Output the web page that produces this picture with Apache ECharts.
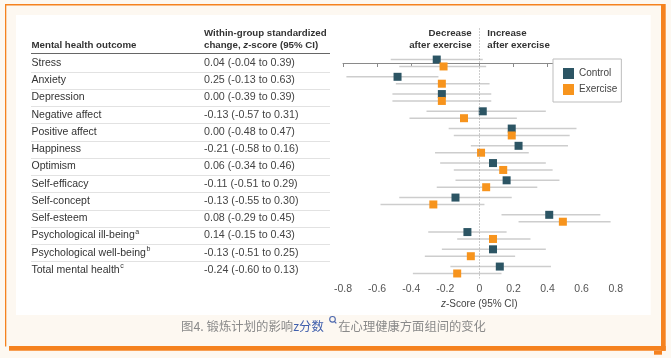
<!DOCTYPE html>
<html>
<head>
<meta charset="utf-8">
<script src="https://cdn.jsdelivr.net/npm/echarts@6/dist/echarts.min.js"></script>
<style>
html,body{margin:0;padding:0;background:#fdf8f1;}
#c{width:671px;height:358px;}
</style>
</head>
<body>
<div id="c"></div>
<script>
var categories = ['Stress','Anxiety','Depression','Negative affect','Positive affect','Happiness','Optimism','Self-efficacy','Self-concept','Self-esteem','Psychological ill-being','Psychological well-being','Total mental health'];
var superscripts = ['','','','','','','','','','','a','b','c'];
var ciText = ['0.04 (-0.04 to 0.39)','0.25 (-0.13 to 0.63)','0.00 (-0.39 to 0.39)','-0.13 (-0.57 to 0.31)','0.00 (-0.48 to 0.47)','-0.21 (-0.58 to 0.16)','0.06 (-0.34 to 0.46)','-0.11 (-0.51 to 0.29)','-0.13 (-0.55 to 0.30)','0.08 (-0.29 to 0.45)','0.14 (-0.15 to 0.43)','-0.13 (-0.51 to 0.25)','-0.24 (-0.60 to 0.13)'];

var controlMean = [-0.25, -0.48, -0.22, 0.02, 0.19, 0.23, 0.08, 0.16, -0.14, 0.41, -0.07, 0.08, 0.12];
var controlLow  = [-0.52, -0.78, -0.51, -0.31, -0.18, -0.05, -0.23, -0.14, -0.47, 0.13, -0.30, -0.22, -0.17];
var controlHigh = [0.02, -0.24, 0.07, 0.39, 0.57, 0.52, 0.39, 0.47, 0.19, 0.71, 0.16, 0.39, 0.42];
var exerciseMean = [-0.21, -0.22, -0.22, -0.09, 0.19, 0.01, 0.14, 0.04, -0.27, 0.49, 0.08, -0.05, -0.13];
var exerciseLow  = [-0.47, -0.49, -0.51, -0.41, -0.15, -0.26, -0.15, -0.25, -0.58, 0.23, -0.13, -0.32, -0.39];
var exerciseHigh = [0.04, 0.06, 0.07, 0.22, 0.53, 0.29, 0.43, 0.34, 0.03, 0.77, 0.30, 0.21, 0.13];

var xTicks = [-0.8, -0.6, -0.4, -0.2, 0, 0.2, 0.4, 0.6, 0.8];

var FONT = '"Liberation Sans", Arial, sans-serif';
var CJK = '"Noto Sans CJK SC", sans-serif';
var ORANGE = '#f5821f';
var C_CTRL = '#2c5564';
var C_EX = '#f7941d';
var OFF = 0.2;

var mctx = document.createElement('canvas').getContext('2d');
function textW(t, size, weight){ mctx.font = (weight||'normal') + ' ' + size + 'px "Liberation Sans", Arial, sans-serif'; return mctx.measureText(t).width; }

function errData(lo, hi, off){ return lo.map(function(l,i){ return [l, hi[i], i + off]; }); }
function errRender(params, api){
  var y = api.value(2);
  var p1 = api.coord([api.value(0), y]);
  var p2 = api.coord([api.value(1), y]);
  return {type:'line', shape:{x1:p1[0], y1:p1[1], x2:p2[0], y2:p2[1]}, style:{stroke:'#cdcdcd', lineWidth:1.5}};
}

var chart = echarts.init(document.getElementById('c'), null, {renderer:'canvas'});
var option = {
  backgroundColor: '#fdf8f1',
  animation: false,
  textStyle: {fontFamily: FONT},
  grid: {left: 343, right: 55.3, top: 28.5, bottom: 79.7, containLabel: false},
  xAxis: {
    type: 'value', min: -0.8, max: 0.8, interval: 0.2,
    axisLine: {show: true, lineStyle: {color: '#8a8a8a', width: 1}},
    axisTick: {show: true, length: 4, lineStyle: {color: '#8a8a8a'}},
    splitLine: {show: false},
    axisLabel: {color: '#555', fontSize: 10.5, margin: 5, fontFamily: FONT,
      formatter: function(v){ var r = Math.round(v*10)/10; return r === 0 ? '0' : String(r); }},
    name: '{i|z}-Score (95% CI)', nameLocation: 'middle', nameGap: 21,
    nameTextStyle: {color: '#444', fontSize: 10, fontFamily: FONT,
      rich: {i: {fontStyle: 'italic', fontSize: 10, color: '#444', fontFamily: FONT}}}
  },
  yAxis: {type: 'value', inverse: true, min: -2, max: 12.48, show: false},
  legend: {
    orient: 'vertical', left: 553, top: 59,
    data: ['Control', 'Exercise'],
    itemWidth: 11, itemHeight: 11, itemGap: 5, itemTextGap: 3,
    padding: [9, 4, 7, 10],
    borderColor: '#bdbdbd', borderWidth: 1, backgroundColor: '#fff',
    textStyle: {color: '#444', fontSize: 10, fontFamily: FONT},
    selectedMode: false
  },
  graphic: [
    {type:'rect', z:-10, shape:{x:16, y:15, width:634.7, height:300}, style:{fill:'#ffffff'}},
    {type:'rect', z:-5, shape:{x:5, y:4, width:657, height:1.5}, style:{fill:ORANGE}},
    {type:'rect', z:-5, shape:{x:5, y:4, width:1.3, height:342.5}, style:{fill:ORANGE}},
    {type:'rect', z:-5, shape:{x:661, y:4, width:4.7, height:346.7}, style:{fill:ORANGE}},
    {type:'rect', z:-5, shape:{x:9, y:346, width:656.7, height:4.7}, style:{fill:ORANGE}},
    {type:'rect', z:-5, shape:{x:654, y:350.7, width:8, height:4}, style:{fill:ORANGE}},
    {type:'text', x:31.5, y:45.7, style:{text:'Mental health outcome', font:'bold 9.7px ' + FONT, fill:'#333', verticalAlign:'middle', align:'left'}},
    {type:'text', x:204, y:33.3, style:{text:'Within-group standardized', font:'bold 9.7px ' + FONT, fill:'#333', verticalAlign:'middle', align:'left'}},
    {type:'text', x:204, y:45.7, style:{text:'change, {i|z}-score (95% CI)', font:'bold 9.7px ' + FONT, fill:'#333', verticalAlign:'middle', align:'left',
      rich:{i:{font:'italic bold 9.7px ' + FONT, fill:'#333'}}}},
    {type:'text', x:471.7, y:33.3, style:{text:'Decrease', font:'bold 9.7px ' + FONT, fill:'#333', verticalAlign:'middle', align:'right'}},
    {type:'text', x:471.7, y:45.7, style:{text:'after exercise', font:'bold 9.7px ' + FONT, fill:'#333', verticalAlign:'middle', align:'right'}},
    {type:'text', x:487.3, y:33.3, style:{text:'Increase', font:'bold 9.7px ' + FONT, fill:'#333', verticalAlign:'middle', align:'left'}},
    {type:'text', x:487.3, y:45.7, style:{text:'after exercise', font:'bold 9.7px ' + FONT, fill:'#333', verticalAlign:'middle', align:'left'}},
    {type:'text', x:181, y:326.7, style:{text:'{g|图4. 锻炼计划的影响}{b|z分数}', verticalAlign:'middle', align:'left',
      rich:{g:{fontSize:12.4, fontFamily:CJK, fill:'#8a8a8a'}, b:{fontSize:12.4, fontFamily:CJK, fill:'#4160ad'}}}},
    {type:'circle', shape:{cx:332.5, cy:319.3, r:2.8}, style:{fill:'none', stroke:'#4a66ad', lineWidth:1.1}},
    {type:'line', shape:{x1:334.4, y1:321.3, x2:336.3, y2:323.3}, style:{stroke:'#4a66ad', lineWidth:1.2}},
    {type:'text', x:338.3, y:326.7, style:{text:'在心理健康方面组间的变化', fontSize:12.3, fontFamily:CJK, fill:'#8a8a8a', verticalAlign:'middle', align:'left'}}
  ],
  series: [
    {
      name: 'table', type: 'custom', z: 1, silent: true,
      data: categories.map(function(c, i){ return [0, i]; }),
      encode: {x: 0, y: 1},
      renderItem: function(params, api){
        var i = params.dataIndex;
        var y = api.coord([0, api.value(1)])[1];
        var children = [];
        children.push({type:'text', style:{x:31.5, y:y, text:categories[i], font:'10.5px ' + FONT, fill:'#333', verticalAlign:'middle', align:'left'}});
        if (superscripts[i]) {
          var w = textW(categories[i], 10.5);
          children.push({type:'text', style:{x:31.5 + w + 0.5, y:y - 3.5, text:superscripts[i], font:'7px ' + FONT, fill:'#333', verticalAlign:'middle', align:'left'}});
        }
        children.push({type:'text', style:{x:204, y:y, text:ciText[i], font:'10.7px ' + FONT, fill:'#444', verticalAlign:'middle', align:'left'}});
        if (i < categories.length - 1) {
          var ys = Math.round(api.coord([0, api.value(1) + 0.5])[1]) + 0.5;
          children.push({type:'line', shape:{x1:31, y1:ys, x2:330, y2:ys}, style:{stroke:'#e2e2e2', lineWidth:1}});
        }
        if (i === 0) {
          var yh = Math.round(api.coord([0, -0.56])[1]) + 0.5;
          children.push({type:'line', shape:{x1:31, y1:yh, x2:330, y2:yh}, style:{stroke:'#666', lineWidth:1.1}});
        }
        return {type:'group', children: children};
      }
    },
    {
      name: 'controlCI', type: 'custom', z: 2, silent: true,
      data: errData(controlLow, controlHigh, -OFF),
      encode: {x: [0, 1], y: 2},
      renderItem: errRender,
      markLine: {silent: true, symbol: 'none', label: {show: false},
        lineStyle: {color: '#9a9a9a', width: 1, type: [1, 2]},
        data: [{xAxis: 0}]}
    },
    {
      name: 'exerciseCI', type: 'custom', z: 2, silent: true,
      data: errData(exerciseLow, exerciseHigh, OFF),
      encode: {x: [0, 1], y: 2},
      renderItem: errRender
    },
    {
      name: 'Control', type: 'scatter', z: 3, symbol: 'rect', symbolSize: 8,
      itemStyle: {color: C_CTRL, opacity: 1},
      data: controlMean.map(function(m, i){ return [m, i - OFF]; })
    },
    {
      name: 'Exercise', type: 'scatter', z: 4, symbol: 'rect', symbolSize: 8,
      itemStyle: {color: C_EX, opacity: 1},
      data: exerciseMean.map(function(m, i){ return [m, i + OFF]; })
    }
  ]
};
chart.setOption(option);
</script>
</body>
</html>
